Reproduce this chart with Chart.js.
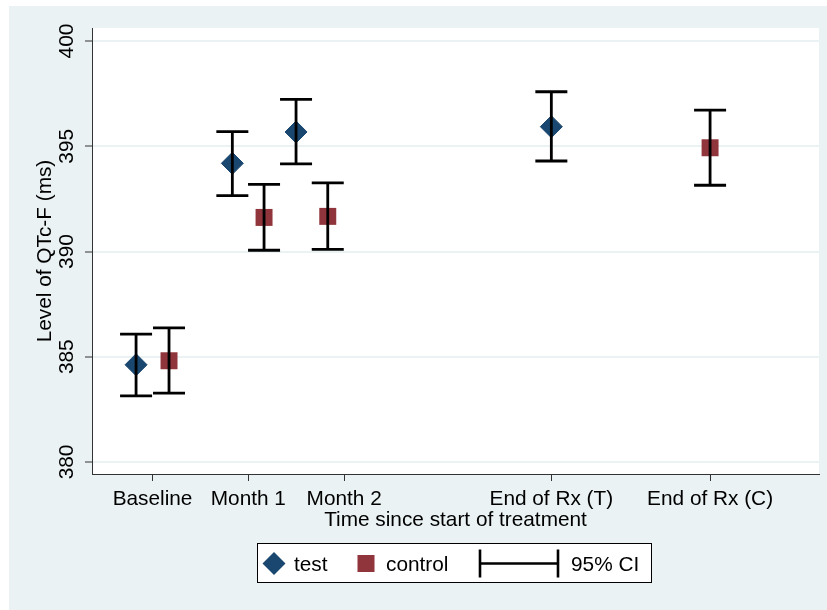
<!DOCTYPE html>
<html><head><meta charset="utf-8">
<script src="https://cdn.jsdelivr.net/npm/chart.js@4"></script>
<style>html,body{margin:0;padding:0;background:#fff}canvas{display:block}</style>
</head><body>
<canvas id="c" width="827" height="610"></canvas>
<script>
// ---- data ----
const xTickPos = [0, 1, 2, 4.163, 5.82];
const xTickLabels = ['Baseline', 'Month 1', 'Month 2', 'End of Rx (T)', 'End of Rx (C)'];
const yTicks = [380, 385, 390, 395, 400];

const testX    = [-0.172, 0.833, 1.498, 4.163];
const testMean = [384.62, 394.19, 395.68, 395.93];
const testLo   = [383.14, 392.66, 394.16, 394.30];
const testHi   = [386.08, 395.70, 397.23, 397.59];

const controlX    = [0.172, 1.164, 1.829, 5.82];
const controlMean = [384.81, 391.62, 391.67, 394.93];
const controlLo   = [383.27, 390.06, 390.10, 393.15];
const controlHi   = [386.37, 393.19, 393.26, 396.72];

const legendLabels = ['test', 'control', '95% CI'];
const xTitle = 'Time since start of treatment';
const yTitle = 'Level of QTc-F (ms)';

// ---- styles ----
const FONT_FAMILY = "'Liberation Sans', Arial, sans-serif";
const FONT_SIZE = 20.8;
const NAVY = '#1a476f';
const MAROON = '#90353b';
const BG = '#eaf2f3';

Chart.defaults.font.family = FONT_FAMILY;
Chart.defaults.font.size = FONT_SIZE;
Chart.defaults.color = '#000';

function pts(xs, m, lo, hi) {
  return xs.map((v, i) => ({ x: v, y: m[i], lo: lo[i], hi: hi[i] }));
}

const bgPlugin = {
  id: 'bg',
  beforeDraw(chart) {
    const { ctx, chartArea: a } = chart;
    ctx.save();
    ctx.fillStyle = '#fff';
    ctx.fillRect(0, 0, chart.width, chart.height);
    ctx.fillStyle = BG;
    ctx.fillRect(9, 6, chart.width - 9, chart.height - 6);
    ctx.fillStyle = '#fff';
    ctx.fillRect(a.left, a.top, a.right - a.left, a.bottom - a.top);
    ctx.restore();
  }
};

const ciPlugin = {
  id: 'ci',
  afterDatasetsDraw(chart) {
    const { ctx, scales: { x, y } } = chart;
    ctx.save();
    ctx.strokeStyle = '#000';
    ctx.lineWidth = 2.8;
    chart.data.datasets.forEach(ds => {
      ds.data.forEach(p => {
        const px = x.getPixelForValue(p.x);
        const pl = y.getPixelForValue(p.lo);
        const ph = y.getPixelForValue(p.hi);
        ctx.beginPath();
        ctx.moveTo(px, pl); ctx.lineTo(px, ph);
        ctx.moveTo(px - 16, pl); ctx.lineTo(px + 16, pl);
        ctx.moveTo(px - 16, ph); ctx.lineTo(px + 16, ph);
        ctx.stroke();
      });
    });
    ctx.restore();
  }
};

const legendPlugin = {
  id: 'lg',
  afterDraw(chart) {
    const { ctx, chartArea: a } = chart;
    const cx = (a.left + a.right) / 2;
    const bw = 394, bh = 39;
    const bx = Math.floor(cx - bw / 2) - 1, by = 543;
    const my = by + 20.5;
    ctx.save();
    ctx.fillStyle = '#fff';
    ctx.fillRect(bx, by, bw, bh);
    ctx.strokeStyle = '#000';
    ctx.lineWidth = 1;
    ctx.strokeRect(bx + 0.5, by + 0.5, bw, bh);
    // diamond
    ctx.fillStyle = NAVY;
    ctx.beginPath();
    const dx = bx + 17, r = 11.5;
    ctx.moveTo(dx - r, my); ctx.lineTo(dx, my - r); ctx.lineTo(dx + r, my); ctx.lineTo(dx, my + r);
    ctx.closePath(); ctx.fill();
    // square
    ctx.fillStyle = MAROON;
    ctx.fillRect(bx + 109 - 8.5, my - 8.5, 17, 17);
    // CI symbol
    ctx.strokeStyle = '#000';
    ctx.lineWidth = 2.6;
    ctx.beginPath();
    ctx.moveTo(bx + 223, my - 14); ctx.lineTo(bx + 223, my + 14);
    ctx.moveTo(bx + 301, my - 14); ctx.lineTo(bx + 301, my + 14);
    ctx.moveTo(bx + 223, my); ctx.lineTo(bx + 301, my);
    ctx.stroke();
    // texts
    ctx.fillStyle = '#000';
    ctx.font = FONT_SIZE + 'px ' + FONT_FAMILY;
    ctx.textBaseline = 'alphabetic';
    ctx.textAlign = 'left';
    const base = by + 28;
    ctx.fillText(legendLabels[0], bx + 37, base);
    ctx.fillText(legendLabels[1], bx + 129, base);
    ctx.fillText(legendLabels[2], bx + 314, base);
    ctx.restore();
  }
};

new Chart(document.getElementById('c'), {
  type: 'scatter',
  data: {
    datasets: [
      { label: legendLabels[0], data: pts(testX, testMean, testLo, testHi),
        pointStyle: 'rectRot', pointRadius: 11, backgroundColor: NAVY, borderColor: NAVY, borderWidth: 1 },
      { label: legendLabels[1], data: pts(controlX, controlMean, controlLo, controlHi),
        pointStyle: 'rect', pointRadius: 12, backgroundColor: MAROON, borderColor: MAROON, borderWidth: 0 }
    ]
  },
  options: {
    responsive: false,
    animation: false,
    events: [],
    layout: { autoPadding: false, padding: { left: 9, top: 28, right: 8, bottom: 76 } },
    plugins: { legend: { display: false }, tooltip: { enabled: false } },
    scales: {
      x: {
        type: 'linear', min: -0.632, max: 6.957,
        afterBuildTicks(s) { s.ticks = xTickPos.map(v => ({ value: v })); },
        afterFit(s) { s.height = 60; s.paddingLeft = 0; s.paddingRight = 0; },
        ticks: { color: '#000', padding: 6, maxRotation: 0, minRotation: 0, autoSkip: false,
          callback: (v) => xTickLabels[xTickPos.indexOf(v)] },
        grid: { drawOnChartArea: false, drawTicks: true, tickLength: 7, tickColor: '#333', tickWidth: 1 },
        border: { color: '#333', width: 1 },
        title: { display: true, text: xTitle, color: '#000', padding: { top: 0, bottom: 1 } }
      },
      y: {
        type: 'linear', min: 379.43, max: 400.62,
        afterBuildTicks(s) { s.ticks = yTicks.map(v => ({ value: v })); },
        afterFit(s) { s.width = 83; s.paddingTop = 0; s.paddingBottom = 0; },
        ticks: { color: '#000', minRotation: 90, maxRotation: 90, crossAlign: 'center', padding: 0 },
        grid: { color: BG, lineWidth: 2, tickLength: 7, tickColor: '#333', tickWidth: 1 },
        border: { color: '#333', width: 1 },
        title: { display: true, text: yTitle, color: '#000', padding: { top: 24, bottom: 0 } }
      }
    }
  },
  plugins: [bgPlugin, ciPlugin, legendPlugin]
});
</script>
</body></html>
